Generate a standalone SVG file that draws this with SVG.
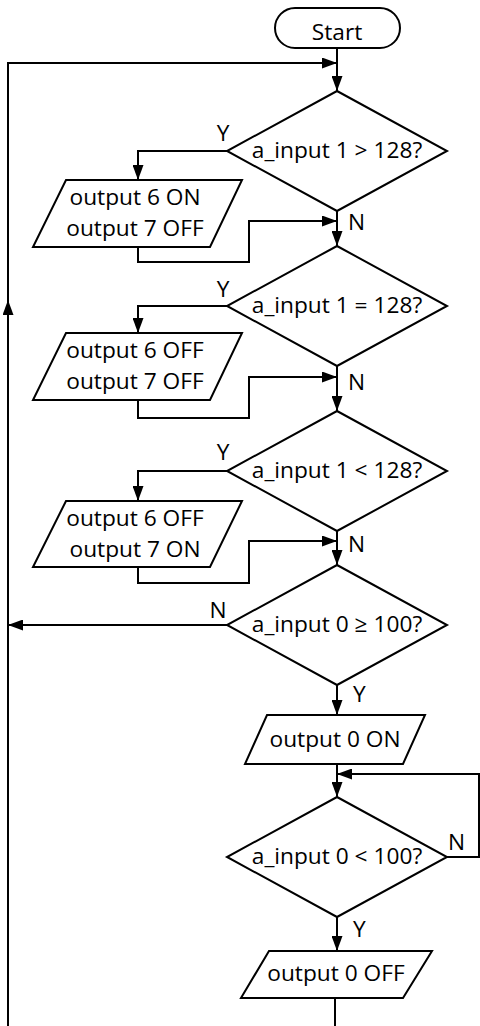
<svg xmlns="http://www.w3.org/2000/svg" width="480" height="1026" viewBox="0 0 480 1026">
<style>
.s{fill:#fff;stroke:#000;stroke-width:2}
.c{fill:none;stroke:#000;stroke-width:2}
text{font-family:"Open Sans","Noto Sans","Liberation Sans",sans-serif;font-size:22.7px;fill:#000}
.m{text-anchor:middle}
</style>
<defs>
<marker id="a" viewBox="0 0 15 11" refX="15" refY="5.5" markerWidth="15" markerHeight="11" markerUnits="userSpaceOnUse" orient="auto">
<path d="M0,0 L15,5.5 L0,11 Z" fill="#000"/>
</marker>
</defs>
<rect width="480" height="1026" fill="#fff"/>
<g id="connectors">
<path class="c" d="M337,48 V91" marker-end="url(#a)"/>
<path class="c" d="M8,1026 V63 H337" marker-end="url(#a)"/>
<path class="c" d="M8,330 V300" marker-end="url(#a)"/>
<path class="c" d="M227,151 H138 V180" marker-end="url(#a)"/>
<path class="c" d="M337,211 V246" marker-end="url(#a)"/>
<path class="c" d="M138,247 V262 H249 V221 H337" marker-end="url(#a)"/>
<path class="c" d="M227,306 H138 V333" marker-end="url(#a)"/>
<path class="c" d="M337,366 V411" marker-end="url(#a)"/>
<path class="c" d="M138,400 V418 H249 V377 H337" marker-end="url(#a)"/>
<path class="c" d="M227,471 H138 V501" marker-end="url(#a)"/>
<path class="c" d="M337,531 V565" marker-end="url(#a)"/>
<path class="c" d="M138,567 V583 H249 V541 H337" marker-end="url(#a)"/>
<path class="c" d="M227,625 H8" marker-end="url(#a)"/>
<path class="c" d="M337,685 V715" marker-end="url(#a)"/>
<path class="c" d="M337,764 V797" marker-end="url(#a)"/>
<path class="c" d="M447,857 H479 V774 H337" marker-end="url(#a)"/>
<path class="c" d="M337,916 V951" marker-end="url(#a)"/>
<path class="c" d="M335,998 V1026"/>
<text x="223" y="141" class="m">Y</text>
<text x="348" y="230">N</text>
<text x="223" y="297" class="m">Y</text>
<text x="348" y="390">N</text>
<text x="223" y="460" class="m">Y</text>
<text x="348" y="552">N</text>
<text x="218" y="618" class="m">N</text>
<text x="353" y="702">Y</text>
<text x="448" y="850">N</text>
<text x="353" y="937">Y</text>
</g>
<g id="start">
<rect class="s" x="275" y="8" width="125" height="40" rx="20"/>
<text x="337" y="40" class="m">Start</text>
</g>
<g id="d1">
<polygon class="s" points="337,91 447,151 337,211 227,151"/>
<text x="337" y="158" class="m">a_input 1 &gt; 128?</text>
</g>
<g id="p1">
<polygon class="s" points="66,180 242,180 210,247 33,247"/>
<text x="135" y="205" class="m">output 6 ON</text>
<text x="135" y="236" class="m">output 7 OFF</text>
</g>
<g id="d2">
<polygon class="s" points="337,246 447,306 337,366 227,306"/>
<text x="337" y="313" class="m">a_input 1 = 128?</text>
</g>
<g id="p2">
<polygon class="s" points="66,333 242,333 210,400 33,400"/>
<text x="135" y="358" class="m">output 6 OFF</text>
<text x="135" y="389" class="m">output 7 OFF</text>
</g>
<g id="d3">
<polygon class="s" points="337,411 447,471 337,531 227,471"/>
<text x="337" y="478" class="m">a_input 1 &lt; 128?</text>
</g>
<g id="p3">
<polygon class="s" points="66,501 242,501 210,567 33,567"/>
<text x="135" y="526" class="m">output 6 OFF</text>
<text x="135" y="557" class="m">output 7 ON</text>
</g>
<g id="d4">
<polygon class="s" points="337,565 447,625 337,685 227,625"/>
<text x="337" y="632" class="m">a_input 0 ≥ 100?</text>
</g>
<g id="p4">
<polygon class="s" points="267,715 425,715 403,764 245,764"/>
<text x="335" y="747" class="m">output 0 ON</text>
</g>
<g id="d5">
<polygon class="s" points="337,797 447,857 337,917 227,857"/>
<text x="337" y="864" class="m">a_input 0 &lt; 100?</text>
</g>
<g id="p5">
<polygon class="s" points="269,951 432,951 403,998 241,998"/>
<text x="336" y="981" class="m">output 0 OFF</text>
</g>
</svg>
